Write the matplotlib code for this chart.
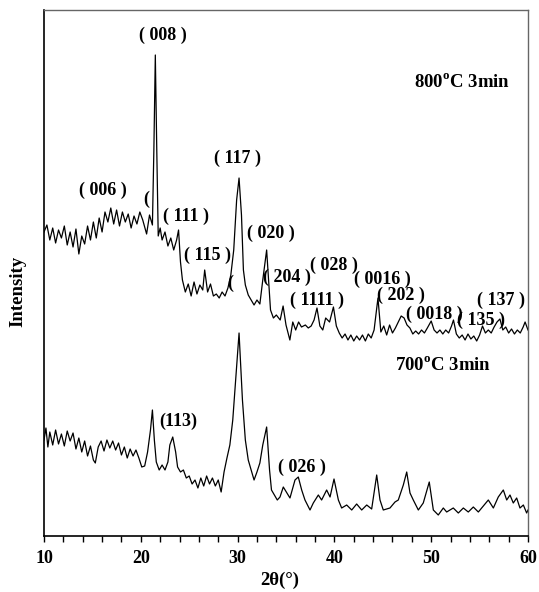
import matplotlib
matplotlib.use("Agg")
import matplotlib.pyplot as plt

# ---- data (2theta in degrees, intensity in arbitrary units) ----
x_800 = [10.0, 10.3, 10.6, 10.9, 11.2, 11.5, 11.8, 12.1, 12.4, 12.7, 13.0, 13.3, 13.6, 13.9,
         14.2, 14.5, 14.8, 15.1, 15.4, 15.7, 16.0, 16.3, 16.6, 16.9, 17.2, 17.5, 17.8, 18.1,
         18.4, 18.7, 19.0, 19.3, 19.6, 19.9, 20.2, 20.6, 20.9, 21.2, 21.35, 21.5, 21.65, 21.8,
         22.0, 22.2, 22.5, 22.8, 23.1, 23.4, 23.7, 23.9, 24.1, 24.3, 24.6, 24.9, 25.2, 25.5,
         25.8, 26.1, 26.4, 26.6, 26.9, 27.2, 27.5, 27.8, 28.1, 28.4, 28.7, 29.0, 29.3, 29.6,
         29.9, 30.15, 30.4, 30.6, 30.8, 31.1, 31.4, 31.7, 32.0, 32.3, 32.6, 33.0, 33.2, 33.4,
         33.7, 34.0, 34.4, 34.7, 35.0, 35.4, 35.7, 36.0, 36.3, 36.6, 37.0, 37.3, 37.6, 37.9,
         38.2, 38.5, 38.8, 39.1, 39.5, 39.9, 40.2, 40.5, 40.8, 41.1, 41.4, 41.7, 42.0, 42.3,
         42.6, 42.9, 43.2, 43.5, 43.8, 44.1, 44.5, 44.8, 45.1, 45.4, 45.7, 46.0, 46.3, 46.6,
         46.9, 47.2, 47.5, 47.8, 48.1, 48.4, 48.7, 49.0, 49.3, 49.6, 50.0, 50.3, 50.6, 50.9,
         51.2, 51.5, 51.8, 52.1, 52.3, 52.6, 52.9, 53.2, 53.5, 53.8, 54.1, 54.4, 54.7, 55.0,
         55.3, 55.6, 55.9, 56.2, 56.5, 56.8, 57.1, 57.4, 57.7, 58.0, 58.3, 58.6, 58.9, 59.2,
         59.5, 59.7, 60.0]
y_800 = [304, 311, 296, 308, 293, 306, 298, 310, 291, 304, 289, 307, 282, 300,
         292, 310, 296, 314, 298, 318, 304, 324, 314, 328, 312, 326, 310, 324,
         314, 322, 308, 320, 312, 324, 316, 302, 321, 311, 386, 481, 386, 300,
         308, 296, 304, 290, 298, 286, 296, 306, 274, 256, 244, 252, 240, 254,
         242, 251, 246, 266, 244, 252, 240, 242, 238, 244, 240, 248, 261, 286,
         336, 358, 321, 266, 251, 241, 236, 231, 236, 232, 256, 286, 256, 226,
         218, 221, 216, 230, 211, 196, 214, 206, 214, 209, 211, 208, 210, 216,
         228, 210, 206, 218, 214, 229, 210, 203, 198, 202, 196, 201, 195, 200,
         196, 201, 195, 202, 198, 206, 238, 204, 210, 201, 211, 203, 208, 214,
         220, 218, 211, 208, 202, 205, 202, 206, 203, 208, 215, 206, 203, 206,
         202, 206, 203, 210, 216, 202, 198, 201, 196, 202, 197, 200, 195, 201,
         210, 203, 206, 203, 209, 214, 217, 206, 209, 203, 207, 202, 206, 203,
         209, 214, 206]

x_700 = [10.0, 10.2, 10.4, 10.6, 10.9, 11.2, 11.5, 11.8, 12.1, 12.4, 12.7, 13.0, 13.3, 13.6,
         13.9, 14.2, 14.5, 14.8, 15.1, 15.3, 15.6, 15.9, 16.2, 16.5, 16.8, 17.1, 17.4, 17.7,
         18.0, 18.3, 18.6, 18.9, 19.2, 19.5, 19.8, 20.1, 20.4, 20.7, 21.0, 21.2, 21.4, 21.6,
         21.9, 22.2, 22.5, 22.8, 23.0, 23.3, 23.6, 23.8, 24.1, 24.4, 24.7, 25.0, 25.3, 25.6,
         25.9, 26.2, 26.5, 26.8, 27.1, 27.4, 27.7, 28.0, 28.3, 28.6, 28.9, 29.2, 29.5, 29.8,
         30.15, 30.5, 30.8, 31.1, 31.4, 31.7, 32.0, 32.3, 32.6, 33.0, 33.3, 33.5, 33.8, 34.1,
         34.38, 34.72, 35.41, 35.93, 36.27, 36.62, 36.96, 37.48, 37.82, 38.34, 38.68, 39.2,
         39.55, 39.96, 40.41, 40.75, 41.27, 41.79, 42.3, 42.82, 43.34, 43.85, 44.37, 44.71,
         45.05, 45.74, 46.26, 46.6, 47.12, 47.47, 47.81, 48.15, 48.67, 49.18, 49.8, 50.22,
         50.73, 51.25, 51.6, 52.28, 52.8, 53.32, 53.83, 54.35, 54.87, 55.38, 55.9, 56.42,
         56.93, 57.45, 57.8, 58.14, 58.48, 58.83, 59.17, 59.52, 59.86, 60.0]
y_700 = [96, 108, 89, 104, 91, 106, 92, 102, 90, 105, 95, 103, 87, 98,
         84, 95, 80, 90, 76, 73, 89, 95, 85, 96, 88, 95, 86, 93,
         81, 89, 78, 87, 80, 86, 78, 69, 70, 84, 106, 126, 96, 74,
         66, 71, 66, 74, 91, 99, 84, 69, 64, 66, 58, 60, 52, 56,
         48, 58, 50, 60, 52, 58, 50, 56, 44, 64, 78, 91, 116, 156,
         203, 136, 96, 76, 66, 56, 64, 73, 91, 109, 66, 46, 41, 36,
         39, 49, 38, 56, 59, 46, 36, 26, 33, 41, 36, 46,
         39, 57, 36, 28, 31, 26, 32, 26, 31, 27, 61, 36,
         26, 28, 34, 36, 51, 64, 43, 36, 26, 33, 54, 26,
         21, 28, 24, 28, 23, 28, 24, 29, 24, 30, 36, 28,
         39, 46, 36, 41, 33, 38, 28, 31, 23, 26]

x_ticks = [10, 20, 30, 40, 50, 60]
x_tick_labels = ["10", "20", "30", "40", "50", "60"]

peak_labels = ["( 008 )", "( 117 )", "( 006 )", "(", "( 111 )", "( 020 )", "( 115 )", "(",
               "( 204 )", "( 028 )", "( 0016 )", "( 1111 )", "( 202 )", "( 0018 )",
               "( 135 )", "( 137 )", "(113)", "( 026 )"]
peak_label_x = [22.29, 29.94, 16.1, 20.54, 24.67, 33.45, 26.84, 29.2,
                35.1, 39.96, 45.0, 38.2, 46.9, 50.3, 55.1, 57.2, 23.84, 36.65]
peak_label_y = [501, 378, 346, 337, 320, 303, 281, 253,
                259, 271, 257, 236, 241, 222, 216, 236, 115, 69]

series_labels = ["800$^{\\mathregular{o}}$C 3min", "700$^{\\mathregular{o}}$C 3min"]
series_label_x = [48.2, 46.26]
series_label_y = [454, 171]

# ---- figure ----
plt.rcParams['font.family'] = ['Liberation Serif', 'DejaVu Serif']
plt.rcParams['mathtext.fontset'] = 'custom'
plt.rcParams['mathtext.rm'] = 'Liberation Serif:bold'

fig = plt.figure(figsize=(5.39, 5.92), dpi=100)
ax = fig.add_axes([44 / 539, 56 / 592, 484 / 539, 526 / 592])

ax.plot(x_800, y_800, color='black', lw=0.9)
ax.plot(x_700, y_700, color='black', lw=0.9)

ax.set_xlim(10, 60)
ax.set_ylim(0, 526)
ax.set_yticks([])
ax.set_xticks(x_ticks)
ax.set_xticklabels(x_tick_labels, fontsize=13, fontweight='bold')
ax.set_xticks(list(range(10, 61, 2)), minor=True)
ax.tick_params(axis='x', which='both', direction='out', length=4, width=1, pad=6)

for s in ['left', 'bottom']:
    ax.spines[s].set_color('black')
    ax.spines[s].set_linewidth(1.2)
for s in ['top', 'right']:
    ax.spines[s].set_color('#666666')
    ax.spines[s].set_linewidth(1.0)

for lab, lx, ly in zip(peak_labels, peak_label_x, peak_label_y):
    ax.text(lx, ly, lab, fontsize=13, fontweight='bold', ha='center', va='center')

for lab, lx, ly in zip(series_labels, series_label_x, series_label_y):
    ax.text(lx, ly, lab, fontsize=13.5, fontweight='bold', ha='left', va='center')

ax.set_xlabel("2θ(°)", fontsize=13.5, fontweight='bold')
ax.xaxis.set_label_coords(0.487, -0.084)
ax.xaxis.label.set_va('center')
ax.set_ylabel("Intensity", fontsize=13.5, fontweight='bold')
ax.yaxis.set_label_coords(-0.054, 0.465)
ax.yaxis.label.set_va('center')

fig.savefig("out.png", dpi=100)
